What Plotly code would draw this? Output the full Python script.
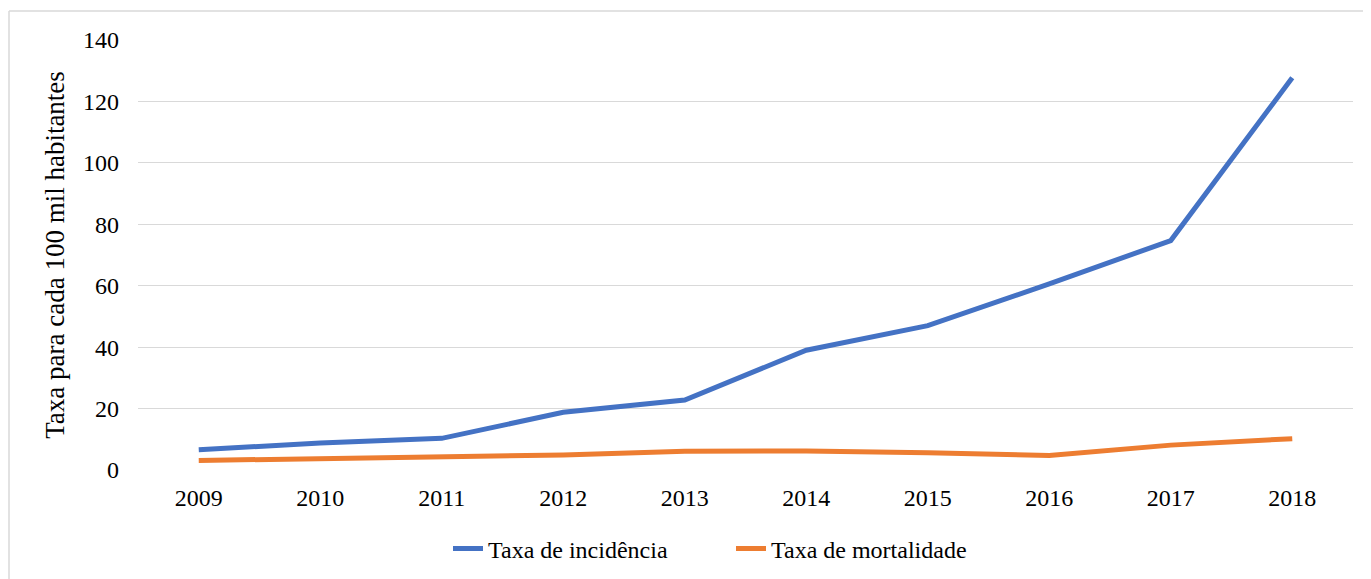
import plotly.graph_objects as go

years = ["2009", "2010", "2011", "2012", "2013", "2014", "2015", "2016", "2017", "2018"]
incidencia = [6.6, 8.8, 10.3, 18.8, 22.8, 39.0, 47.0, 60.6, 74.7, 127.7]
mortalidade = [3.1, 3.8, 4.1, 4.9, 6.1, 6.2, 5.6, 4.7, 8.1, 10.2]
y_ticks = [0, 20, 40, 60, 80, 100, 120, 140]

FONT = "Liberation Serif"

fig = go.Figure()
fig.add_trace(go.Scatter(x=years, y=incidencia, mode="lines", name="Taxa de incidência",
                         line=dict(color="#4472C4", width=5)))
fig.add_trace(go.Scatter(x=years, y=mortalidade, mode="lines", name="Taxa de mortalidade",
                         line=dict(color="#ED7D31", width=5)))

# page body has an 8px margin, so the figure is 8px smaller and shifted
W, H = 1363, 571
L, R, T, B = 130, 18, 32, 109
pw, ph = W - L - R, H - T - B

fig.update_layout(
    width=W, height=H,
    margin=dict(l=L, r=R, t=T, b=B, autoexpand=False),
    paper_bgcolor="white", plot_bgcolor="white",
    font=dict(family=FONT, size=24, color="black"),
    showlegend=True,
    legend=dict(orientation="h", x=(731 - 8 - L) / pw, xanchor="center",
                yref="container", y=1 - (549 - 8) / H, yanchor="middle",
                font=dict(family=FONT, size=24), entrywidth=238, entrywidthmode="pixels",
                tracegroupgap=0),
    xaxis=dict(type="category", range=[-0.5, 9.5], showgrid=False, zeroline=False,
               showline=False, ticks="", ticklabelstandoff=11,
               tickfont=dict(family=FONT, size=24)),
    yaxis=dict(range=[0, 140], tickvals=y_ticks, showgrid=True, gridcolor="#D9D9D9",
               gridwidth=1.3, zeroline=False, showline=False, ticks="",
               ticklabelstandoff=18, tickfont=dict(family=FONT, size=24),
               title=dict(text="Taxa para cada 100 mil habitantes",
                          font=dict(family=FONT, size=27), standoff=10)),
    shapes=[
        dict(type="line", xref="paper", yref="paper",
             x0=(1 - L) / pw, x1=(W + 20 - L) / pw,
             y0=(T + ph - 3) / ph, y1=(T + ph - 3) / ph,
             line=dict(color="#D9D9D9", width=1.5), layer="below"),
        dict(type="line", xref="paper", yref="paper",
             x0=(1 - L) / pw, x1=(1 - L) / pw,
             y0=-(H + 20 - T - ph) / ph, y1=(T + ph - 3) / ph,
             line=dict(color="#D9D9D9", width=1.5), layer="below"),
    ],
)

fig.write_html("out.html")
